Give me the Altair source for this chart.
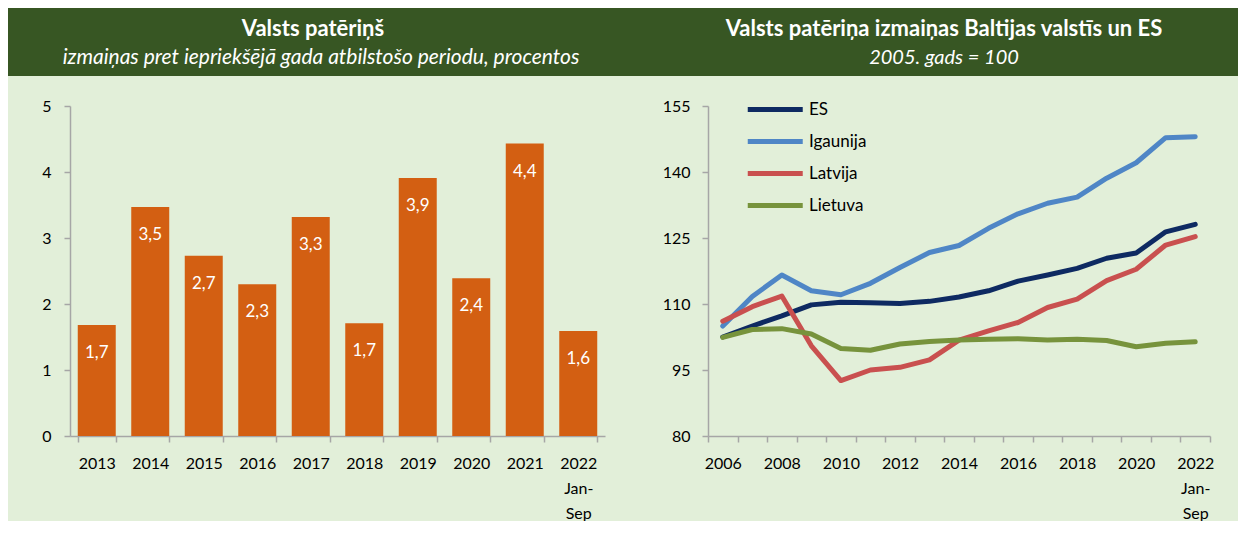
import altair as alt
import pandas as pd

# ---------------- data ----------------
bar_years = ["2013", "2014", "2015", "2016", "2017", "2018", "2019", "2020", "2021", "2022"]
bar_values = [1.68, 3.47, 2.73, 2.30, 3.32, 1.71, 3.91, 2.39, 4.43, 1.59]

line_years = ["2006", "2007", "2008", "2009", "2010", "2011", "2012", "2013", "2014",
              "2015", "2016", "2017", "2018", "2019", "2020", "2021", "2022"]
series_names = ["ES", "Igaunija", "Latvija", "Lietuva"]
es = [102.5, 105.0, 107.3, 109.8, 110.4, 110.3, 110.1, 110.6, 111.6, 113.0, 115.2, 116.6, 118.1, 120.4, 121.6, 126.4, 128.1]
igaunija = [105.0, 111.7, 116.6, 113.0, 112.1, 114.7, 118.3, 121.7, 123.3, 127.2, 130.5, 132.9, 134.3, 138.6, 142.1, 147.8, 148.0]
latvija = [106.1, 109.4, 111.8, 100.5, 92.6, 95.0, 95.6, 97.3, 101.8, 103.9, 105.8, 109.2, 111.1, 115.3, 117.9, 123.4, 125.3]
lietuva = [102.4, 104.2, 104.4, 103.2, 99.9, 99.5, 100.9, 101.5, 101.8, 102.0, 102.1, 101.8, 102.0, 101.7, 100.3, 101.1, 101.4]
series_colors = ["#0e2a62", "#4f86c6", "#c9504f", "#77933c"]

left_title = "Valsts patēriņš"
left_subtitle = "izmaiņas pret iepriekšējā gada atbilstošo periodu, procentos"
right_title = "Valsts patēriņa izmaiņas Baltijas valstīs un ES"
right_subtitle = "2005. gads = 100"

# ---------------- style ----------------
FONT = "Lato"
HDR = "#375623"
BG = "#e2efd9"
BAR = "#d35f12"
AXC = "#a6a6a6"

LW, LH = 535, 330
RW, RH = 502, 330
GAP = 103

bars_df = pd.DataFrame({"year": bar_years, "value": bar_values})
rows = []
for name, vals in zip(series_names, [es, igaunija, latvija, lietuva]):
    for y, v in zip(line_years, vals):
        rows.append({"year": y, "series": name, "value": v})
lines_df = pd.DataFrame(rows)
one = pd.DataFrame({"k": [0]})


def header(x0, x1, title, subtitle, cx, sub_cx, sub_size):
    rect = alt.Chart(one).mark_rect(color=HDR).encode(
        x=alt.value(x0), x2=alt.value(x1), y=alt.value(-98), y2=alt.value(-30))
    t = alt.Chart(one).mark_text(font=FONT, fontSize=22, fontWeight="bold", color="white",
                                 baseline="middle").encode(
        x=alt.value(cx), y=alt.value(-77), text=alt.value(title))
    s = alt.Chart(one).mark_text(font=FONT, fontSize=sub_size, fontStyle="italic", color="white",
                                 baseline="middle").encode(
        x=alt.value(sub_cx), y=alt.value(-48), text=alt.value(subtitle))
    return rect + t + s


# ---------------- left: bars ----------------
xl = alt.X("year:N", sort=bar_years,
           scale=alt.Scale(paddingInner=0.29, paddingOuter=0.145),
           axis=alt.Axis(title=None, tickBand="extent", labelAngle=0, labelOverlap=False,
                         labelPadding=13, labelLineHeight=25,
                         labelExpr="datum.value == '2022' ? ['2022', 'Jan-', 'Sep'] : datum.label"))
yl = alt.Y("value:Q", scale=alt.Scale(domain=[0, 5], nice=False),
           axis=alt.Axis(title=None, values=[0, 1, 2, 3, 4, 5], labelPadding=13))

bars = alt.Chart(bars_df).mark_bar(color=BAR).encode(x=xl, y=yl)
bar_labels = alt.Chart(bars_df).transform_calculate(
    lbl="replace(format(datum.value, '.1f'), '.', ',')"
).mark_text(color="white", font=FONT, fontSize=17, baseline="middle", dy=28).encode(
    x=xl, y=yl, text="lbl:N")

left = alt.layer(
    header(-62, LW + 51, left_title, left_subtitle, 243, 251, 21),
    bars, bar_labels
).properties(width=LW, height=LH)

# ---------------- right: lines ----------------
xr = alt.X("year:N", sort=line_years, bandPosition=0.5,
           scale=alt.Scale(type="band", paddingInner=0, paddingOuter=0),
           axis=alt.Axis(title=None, tickBand="extent", labelAngle=0, labelOverlap=False,
                         labelPadding=13, labelLineHeight=25,
                         labelExpr="datum.value == '2022' ? ['2022', 'Jan-', 'Sep'] : "
                                   "(toNumber(datum.value) % 2 == 0 ? datum.label : '')"))
yr = alt.Y("value:Q", scale=alt.Scale(domain=[80, 155], nice=False),
           axis=alt.Axis(title=None, values=[80, 95, 110, 125, 140, 155], labelPadding=12))

lines = alt.Chart(lines_df).mark_line(strokeWidth=5, strokeCap="round", strokeJoin="round").encode(
    x=xr, y=yr,
    color=alt.Color("series:N", sort=series_names,
                    scale=alt.Scale(domain=series_names, range=series_colors),
                    legend=alt.Legend(orient="none", legendX=LW + GAP + 37, legendY=-13, title=None,
                                      symbolType="M-1,0H3", symbolSize=756, symbolStrokeWidth=5,
                                      labelFont=FONT, labelFontSize=17, labelColor="black",
                                      labelOffset=31, rowPadding=5, padding=0)))

right = alt.layer(
    header(-52, RW + 28, right_title, right_subtitle, 236, 236, 20),
    lines
).properties(width=RW, height=RH)

chart = alt.hconcat(left, right, spacing=GAP, bounds="flush").properties(
    padding={"left": 0, "top": 0, "right": 0, "bottom": 0}
).configure(background=BG).configure_view(stroke=None).configure_axis(
    labelFont=FONT, labelFontSize=16, labelColor="black",
    domainColor=AXC, tickColor=AXC, domainWidth=1.5, tickWidth=1.5, tickSize=6, grid=False
)

chart.save("out.html", embed_options={"renderer": "svg", "actions": False})
